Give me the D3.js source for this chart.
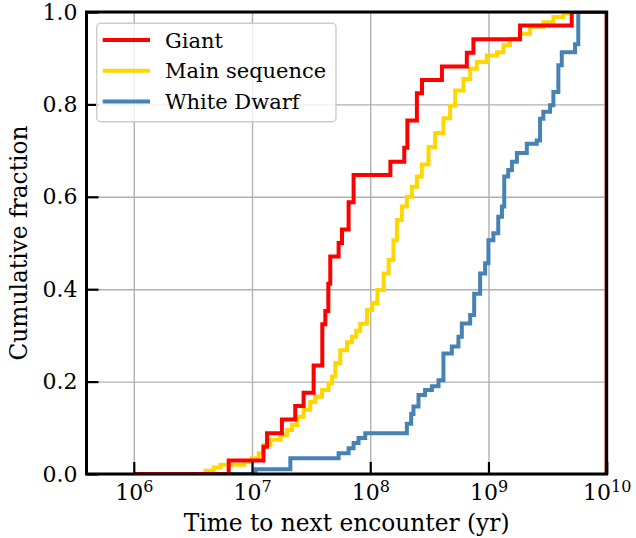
<!DOCTYPE html>
<html>
<head>
<meta charset="utf-8">
<script src="https://cdn.jsdelivr.net/npm/d3@7"></script>
<style>
body { margin: 0; background: #fff; }
text { font-family: "DejaVu Serif", serif; fill: #000; }
</style>
</head>
<body>
<div id="chart"></div>
<script>
// Cumulative step curves: time (yr) where each curve steps up, and the fraction after that step
const giantTimes = [6.35e6, 1.25e7, 1.34e7, 1.79e7, 2.32e7, 2.73e7, 3.32e7, 3.93e7, 4.17e7, 4.42e7,
    4.59e7, 5.40e7, 5.77e7, 6.56e7, 7.23e7, 1.48e8, 1.94e8, 2.06e8, 2.48e8, 2.74e8,
    4.04e8, 6.56e8, 7.46e8, 1.85e9, 5.06e9];
const giantFrac = [0.029, 0.059, 0.088, 0.118, 0.147, 0.176, 0.235, 0.324, 0.353, 0.412,
    0.471, 0.5, 0.529, 0.588, 0.647, 0.676, 0.706, 0.765, 0.824, 0.853,
    0.882, 0.912, 0.941, 0.971, 1.0];

const mainTimes = [4.04e6, 4.74e6, 5.40e6, 8.62e6, 1.00e7, 1.14e7, 1.25e7, 1.43e7, 1.74e7, 1.98e7,
    2.18e7, 2.40e7, 2.73e7, 3.11e7, 3.43e7, 3.91e7, 4.44e7, 4.75e7, 5.06e7, 5.58e7,
    6.36e7, 7.00e7, 7.61e7, 8.23e7, 9.38e7, 1.04e8, 1.15e8, 1.30e8, 1.43e8, 1.57e8,
    1.68e8, 1.85e8, 2.04e8, 2.25e8, 2.48e8, 2.73e8, 3.11e8, 3.54e8, 4.16e8, 4.74e8,
    5.23e8, 6.14e8, 7.00e8, 7.97e8, 9.68e8, 1.18e9, 1.34e9, 1.52e9, 1.85e9, 2.25e9,
    2.91e9, 3.54e9, 4.30e9, 4.80e9];
const mainFrac = [0.007, 0.014, 0.02, 0.026, 0.034, 0.045, 0.063, 0.074, 0.084, 0.095,
    0.106, 0.124, 0.139, 0.156, 0.167, 0.182, 0.196, 0.211, 0.24, 0.268,
    0.285, 0.297, 0.31, 0.325, 0.355, 0.37, 0.398, 0.434, 0.463, 0.506,
    0.55, 0.579, 0.6, 0.622, 0.644, 0.67, 0.708, 0.738, 0.77, 0.797,
    0.83, 0.855, 0.877, 0.892, 0.906, 0.913, 0.928, 0.942, 0.953, 0.968,
    0.978, 0.989, 0.997, 1.0];

const dwarfTimes = [1.07e7, 2.11e7, 5.40e7, 6.56e7, 7.23e7, 7.96e7, 9.07e7, 2.04e8, 2.22e8, 2.32e8,
    2.56e8, 2.91e8, 3.32e8, 3.78e8, 4.16e8, 4.90e8, 5.57e8, 5.95e8, 7.00e8, 7.57e8,
    8.50e8, 9.37e8, 9.99e8, 1.10e9, 1.21e9, 1.30e9, 1.36e9, 1.47e9, 1.58e9, 1.74e9,
    2.11e9, 2.56e9, 2.73e9, 2.91e9, 3.32e9, 3.54e9, 3.90e9, 4.17e9, 5.40e9, 5.75e9];
const dwarfFrac = [0.0101, 0.034, 0.045, 0.056, 0.067, 0.078, 0.088, 0.109, 0.13, 0.146,
    0.171, 0.182, 0.19, 0.203, 0.261, 0.276, 0.297, 0.326, 0.344, 0.39,
    0.434, 0.456, 0.506, 0.521, 0.557, 0.579, 0.644, 0.658, 0.676, 0.695,
    0.715, 0.722, 0.769, 0.784, 0.798, 0.827, 0.885, 0.913, 0.93, 1.0];

const seriesNames = ["Giant", "Main sequence", "White Dwarf"];
const seriesColors = ["#ff0000", "#ffd700", "#4682b4"];
const xTicks = [1e6, 1e7, 1e8, 1e9, 1e10];
const yTicks = [0, 0.2, 0.4, 0.6, 0.8, 1.0];

const width = 636, height = 538;
const plotLeft = 86.5, plotRight = 606.7, plotTop = 12, plotBottom = 474;

const svg = d3.select("#chart")
    .append("svg")
    .attr("width", width)
    .attr("height", height);

const x = d3.scaleLog()
    .domain([Math.pow(10, 5.6), 1e10])
    .range([plotLeft, plotRight]);

const y = d3.scaleLinear()
    .domain([0, 1])
    .range([plotBottom, plotTop]);

// grid
svg.append("g")
    .attr("transform", "translate(0," + plotBottom + ")")
    .call(d3.axisBottom(x).tickValues(xTicks).tickSize(-(plotBottom - plotTop)).tickFormat(""))
    .call(g => g.select(".domain").remove())
    .call(g => g.selectAll("line").attr("stroke", "#b0b0b0").attr("stroke-width", 1.4));

svg.append("g")
    .attr("transform", "translate(" + plotLeft + ",0)")
    .call(d3.axisLeft(y).tickValues(yTicks).tickSize(-(plotRight - plotLeft)).tickFormat(""))
    .call(g => g.select(".domain").remove())
    .call(g => g.selectAll("line").attr("stroke", "#b0b0b0").attr("stroke-width", 1.4));

// clip to the axes box
svg.append("clipPath")
    .attr("id", "plot-clip")
    .append("rect")
    .attr("x", plotLeft)
    .attr("y", plotTop)
    .attr("width", plotRight - plotLeft)
    .attr("height", plotBottom - plotTop);

const line = d3.line()
    .x(d => x(d[0]))
    .y(d => y(d[1]))
    .curve(d3.curveStepAfter);

function stepPoints(times, fracs) {
    const pts = [[1e6, 0]];
    times.forEach((t, i) => pts.push([t, fracs[i]]));
    pts.push([1e10, 1]);
    pts.push([1e10, 0]);
    return pts;
}

const series = [
    { name: seriesNames[0], color: seriesColors[0], pts: stepPoints(giantTimes, giantFrac) },
    { name: seriesNames[1], color: seriesColors[1], pts: stepPoints(mainTimes, mainFrac) },
    { name: seriesNames[2], color: seriesColors[2], pts: stepPoints(dwarfTimes, dwarfFrac) }
];

// draw order: main sequence, white dwarf, then giant on top
const curves = svg.append("g").attr("clip-path", "url(#plot-clip)");
[1, 2, 0].forEach(i => {
    curves.append("path")
        .attr("d", line(series[i].pts))
        .attr("fill", "none")
        .attr("stroke", series[i].color)
        .attr("stroke-width", 4)
        .attr("stroke-linejoin", "miter");
});

// axes with inward ticks
svg.append("g")
    .attr("transform", "translate(0," + plotBottom + ")")
    .call(d3.axisBottom(x).tickValues(xTicks).tickSize(-12).tickPadding(10).tickFormat(""))
    .call(g => g.select(".domain").remove())
    .call(g => g.selectAll("line").attr("stroke", "#000").attr("stroke-width", 2.2))
    .call(g => g.selectAll(".tick text")
        .attr("font-size", 22)
        .attr("dy", "0.71em")
        .each(function (d) {
            const t = d3.select(this);
            t.append("tspan").text("10");
            t.append("tspan")
                .attr("font-size", 16)
                .attr("dy", "-0.5em")
                .text(Math.round(Math.log10(d)));
        }));

svg.append("g")
    .attr("transform", "translate(" + plotLeft + ",0)")
    .call(d3.axisLeft(y).tickValues(yTicks).tickSize(-12).tickPadding(9).tickFormat(d3.format(".1f")))
    .call(g => g.select(".domain").remove())
    .call(g => g.selectAll("line").attr("stroke", "#000").attr("stroke-width", 2.2))
    .call(g => g.selectAll(".tick text").attr("font-size", 22));

svg.selectAll(".tick text").attr("font-family", "DejaVu Serif").attr("fill", "#000");

// spines
svg.append("rect")
    .attr("x", plotLeft)
    .attr("y", plotTop)
    .attr("width", plotRight - plotLeft)
    .attr("height", plotBottom - plotTop)
    .attr("fill", "none")
    .attr("stroke", "#000")
    .attr("stroke-width", 3);

// axis labels
svg.append("text")
    .attr("x", (plotLeft + plotRight) / 2)
    .attr("y", 531)
    .attr("text-anchor", "middle")
    .attr("font-size", 23.3)
    .text("Time to next encounter (yr)");

svg.append("text")
    .attr("transform", "translate(26.5," + (plotTop + plotBottom) / 2 + ") rotate(-90)")
    .attr("text-anchor", "middle")
    .attr("font-size", 23.3)
    .text("Cumulative fraction");

// legend
const legend = svg.append("g");
legend.append("rect")
    .attr("x", 96.7)
    .attr("y", 23.3)
    .attr("width", 239.3)
    .attr("height", 98.4)
    .attr("rx", 4)
    .attr("fill", "#fff")
    .attr("fill-opacity", 0.8)
    .attr("stroke", "#cccccc")
    .attr("stroke-width", 1.4);

series.forEach((s, i) => {
    const ly = 40 + i * 30.8;
    legend.append("line")
        .attr("x1", 102.7)
        .attr("x2", 150)
        .attr("y1", ly)
        .attr("y2", ly)
        .attr("stroke", s.color)
        .attr("stroke-width", 4);
    legend.append("text")
        .attr("x", 165)
        .attr("y", ly)
        .attr("dy", "0.36em")
        .attr("font-size", 21)
        .text(s.name);
});
</script>
</body>
</html>
